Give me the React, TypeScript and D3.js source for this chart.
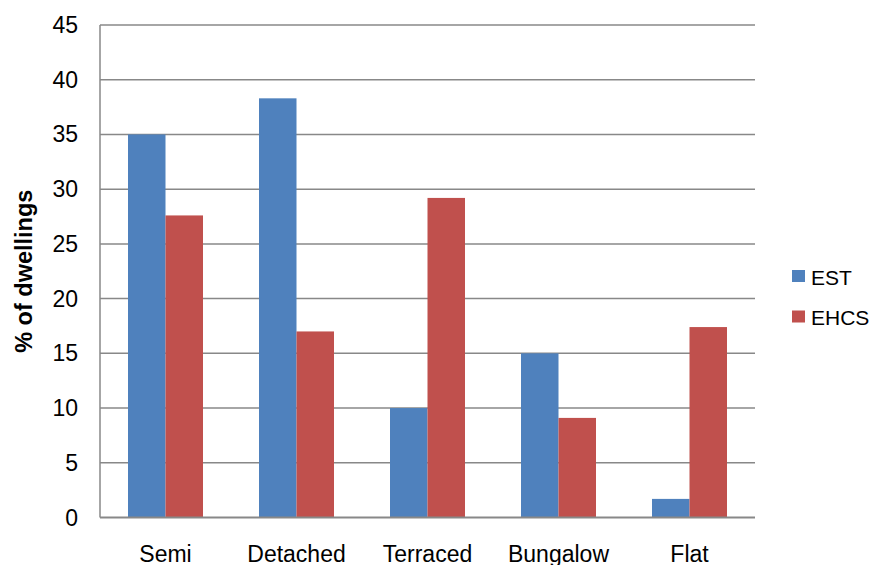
import React from "react";
import * as d3 from "d3";

const categories = ["Semi", "Detached", "Terraced", "Bungalow", "Flat"];
const seriesNames = ["EST", "EHCS"];
const estValues = [35, 38.3, 10, 15, 1.7];
const ehcsValues = [27.6, 17, 29.2, 9.1, 17.4];
const yTicks = [0, 5, 10, 15, 20, 25, 30, 35, 40, 45];
const colors = ["#4F81BD", "#C0504D"];

export default function App() {
  const W = 876, H = 565;
  const left = 100, right = 755, top = 25, bottom = 517.5;
  const x = d3.scaleBand<string>().domain(categories).range([left, right]).paddingInner(0).paddingOuter(0);
  const y = d3.scaleLinear().domain([0, 45]).range([bottom, top]);
  const bw = 37.5;
  const series = [estValues, ehcsValues];
  const font = "'Liberation Sans', Arial, sans-serif";
  return (
    <svg width={W} height={H} style={{ position: "absolute", left: 0, top: 0 }} fontFamily={font}>
      <rect width={W} height={H} fill="#fff" />
      {yTicks.filter(t => t > 0).map(t => (
        <line key={t} x1={left} x2={right} y1={y(t)} y2={y(t)} stroke="#888" strokeWidth={1.5} />
      ))}
      {categories.map((c, i) => {
        const cx = x(c)! + x.bandwidth() / 2;
        return series.map((s, j) => (
          <rect key={c + j} x={cx - bw + j * bw} y={y(s[i])} width={bw} height={bottom - y(s[i])} fill={colors[j]} />
        ));
      })}
      <line x1={left} x2={left} y1={top} y2={bottom} stroke="#888" strokeWidth={1.5} />
      <line x1={left} x2={right} y1={bottom} y2={bottom} stroke="#888" strokeWidth={2} />
      {yTicks.map(t => (
        <text key={t} x={78} y={y(t)} dy="0.35em" textAnchor="end" fontSize={23} fill="#000">{t}</text>
      ))}
      {categories.map(c => (
        <text key={c} x={x(c)! + x.bandwidth() / 2} y={562} textAnchor="middle" fontSize={23} fill="#000">{c}</text>
      ))}
      <text transform={`translate(32,${(top + bottom) / 2}) rotate(-90)`} textAnchor="middle" fontSize={23.5} fontWeight="bold" fill="#000">% of dwellings</text>
      {seriesNames.map((n, j) => (
        <g key={n}>
          <rect x={792} y={270 + j * 40.5} width={13} height={12} fill={colors[j]} />
          <text x={811} y={284.5 + j * 40.5} fontSize={21} fill="#000">{n}</text>
        </g>
      ))}
    </svg>
  );
}
